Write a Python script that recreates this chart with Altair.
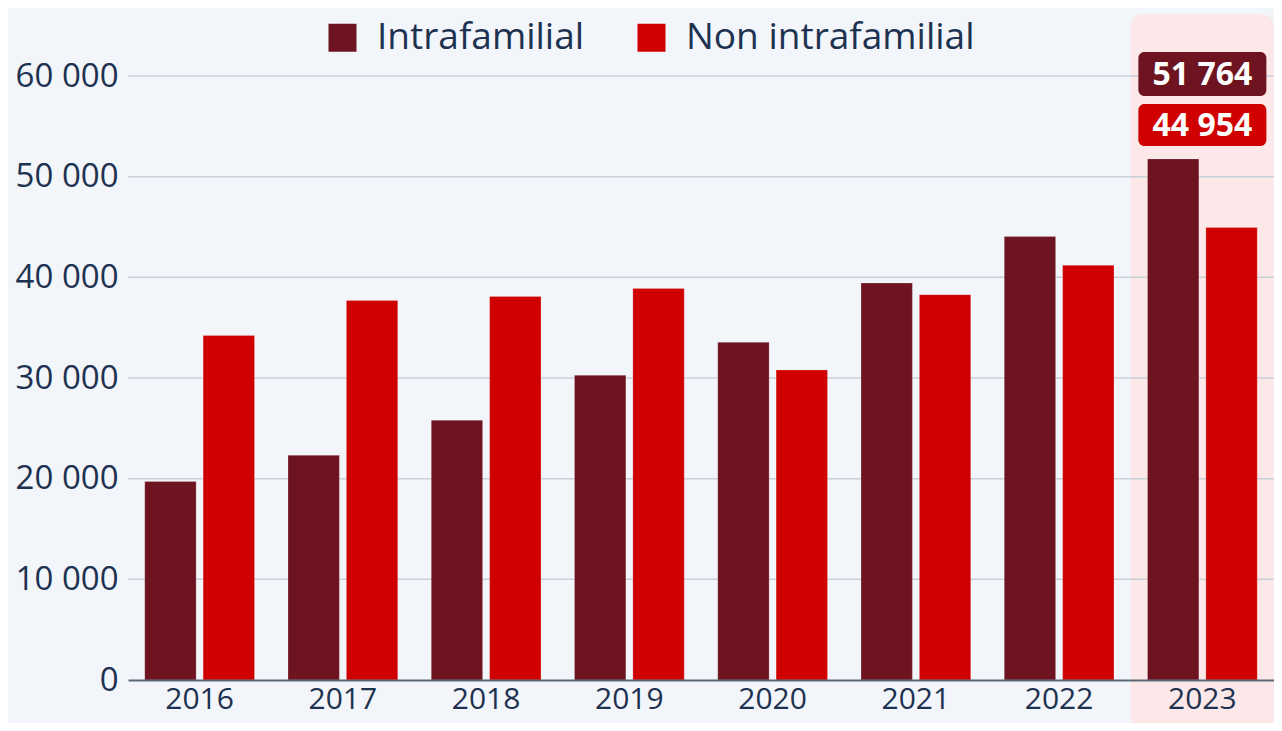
import altair as alt
import pandas as pd

years = ["2016", "2017", "2018", "2019", "2020", "2021", "2022", "2023"]
intrafamilial = [19730, 22316, 25795, 30268, 33539, 39433, 44046, 51764]
non_intrafamilial = [34215, 37694, 38091, 38887, 30795, 38280, 41193, 44954]
series_names = ["Intrafamilial", "Non intrafamilial"]
grid_values = [10000, 20000, 30000, 40000, 50000, 60000]
highlight_year = ["2023"]

W, H = 1146, 604
STEP = W / len(years)
TEXT = "#1d3250"
C_INTRA = "#6e1420"
C_NON = "#d00000"
FONT = "Open Sans"

rows = []
for y, a, b in zip(years, intrafamilial, non_intrafamilial):
    rows.append({"year": y, "series": series_names[0], "value": a})
    rows.append({"year": y, "series": series_names[1], "value": b})
df = pd.DataFrame(rows)

x_enc = alt.X("year:N", sort=years,
              scale=alt.Scale(domain=years, paddingInner=0.234, paddingOuter=0.117),
              axis=alt.Axis(title=None, labelAngle=0, labelFontSize=30, labelColor=TEXT,
                            labelFont=FONT, labelPadding=4, ticks=False, grid=False,
                            domainColor="#5b6878", domainWidth=2, zindex=1))
y_scale = alt.Scale(domain=[0, 60000], nice=False)

hl = alt.Chart(pd.DataFrame({"year": highlight_year})).mark_bar(
    size=STEP, color="#fde8e9", cornerRadiusTopLeft=12, cornerRadiusTopRight=12
).encode(x=x_enc, y=alt.value(-62), y2=alt.value(H + 60))

grid = alt.Chart(pd.DataFrame({"g": grid_values})).mark_rule(
    color="#c8d0da", strokeWidth=1.5
).encode(y=alt.Y("g:Q", scale=y_scale))

bars = alt.Chart(df).mark_bar(stroke="#ffffff", strokeOpacity=0.35, strokeWidth=0.6).encode(
    x=x_enc,
    xOffset=alt.XOffset("series:N", sort=series_names, scale=alt.Scale(paddingInner=0.12)),
    y=alt.Y("value:Q", scale=y_scale,
            axis=alt.Axis(title=None, values=[0, 10000, 20000, 30000, 40000, 50000, 60000],
                          labelExpr="replace(format(datum.value, ','), ',', ' ')",
                          labelFontSize=33, labelColor=TEXT, labelFont=FONT,
                          labelPadding=10, domain=False, ticks=False, grid=False)),
    color=alt.Color("series:N", sort=series_names,
                    scale=alt.Scale(domain=series_names, range=[C_INTRA, C_NON]),
                    legend=alt.Legend(title=None, orient="none", direction="horizontal",
                                      columns=2, legendX=196, legendY=-57, padding=0,
                                      symbolType="square", symbolSize=784, symbolStrokeWidth=0,
                                      labelFontSize=37, labelFont=FONT, labelColor=TEXT,
                                      labelLimit=500, labelOffset=16, columnPadding=48)),
)

def value_tag(value, color, top, bottom, center):
    d = pd.DataFrame({"year": highlight_year, "v": [value]})
    base = alt.Chart(d).transform_calculate(
        label="replace(format(datum.v, ','), ',', ' ')")
    box = base.mark_bar(size=128, color=color, cornerRadius=6).encode(
        x=x_enc, y=alt.value(top), y2=alt.value(bottom))
    txt = base.mark_text(color="white", font=FONT, fontSize=32, fontWeight="bold",
                         align="center", baseline="middle").encode(
        x=x_enc, y=alt.value(center), text="label:N")
    return box + txt

tag1 = value_tag(intrafamilial[-1], C_INTRA, -24, 20, -1)
tag2 = value_tag(non_intrafamilial[-1], C_NON, 28, 70, 50)

chart = alt.layer(hl, grid, bars, tag1, tag2).properties(
    width=W, height=H,
    autosize=alt.AutoSizeParams(type="none"),
    padding={"left": 120, "top": 68, "right": 0, "bottom": 43},
    background="#f2f5f9",
).configure_view(stroke=None)

chart.save("out.html", embed_options={"renderer": "svg", "actions": False})
